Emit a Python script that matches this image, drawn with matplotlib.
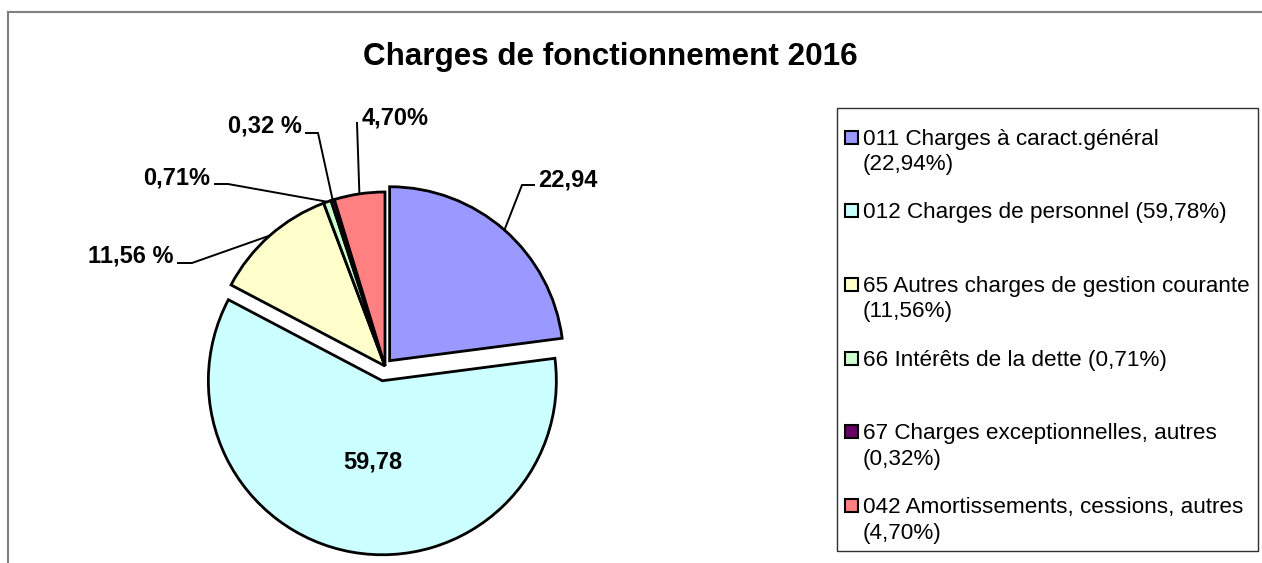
import matplotlib
matplotlib.use("Agg")
import matplotlib.pyplot as plt
from matplotlib.patches import Rectangle
from matplotlib.lines import Line2D
import numpy as np

# ---------------- data ----------------
title = "Charges de fonctionnement 2016"
categories = ["011 Charges à caract.général", "012 Charges de personnel",
              "65 Autres charges de gestion courante", "66 Intérêts de la dette",
              "67 Charges exceptionnelles, autres", "042 Amortissements, cessions, autres"]
values = [22.94, 59.78, 11.56, 0.71, 0.32, 4.70]
legend_pct = ["(22,94%)", "(59,78%)", "(11,56%)", "(0,71%)", "(0,32%)", "(4,70%)"]
legend_wrap = [True, False, True, False, True, True]
slice_labels = ["22,94", "59,78", "11,56 %", "0,71%", "0,32 %", "4,70%"]
colors = ["#9999FF", "#CCFFFF", "#FFFFCC", "#CCFFCC", "#660066", "#FF8080"]
explode = [0.035, 0.075, 0, 0, 0, 0]

# ---------------- layout ----------------
W, H, DPI = 1262, 563, 100
plt.rcParams["font.family"] = ["Liberation Sans", "DejaVu Sans"]
fig = plt.figure(figsize=(W / DPI, H / DPI), dpi=DPI)
fig.patch.set_facecolor("white")

CX, CY, S = 385, 366, 200.0  # pie centre in px, px per data unit
AX_W = 800


def px2d(px, py):
    return ((px - CX) / S, (CY - py) / S)


def fx(px):
    return px / W


def fy(py):
    return 1 - py / H


ax = fig.add_axes([0, 0, AX_W / W, 1])
wedges, _ = ax.pie(values, colors=colors, explode=explode, startangle=90,
                   counterclock=False, radius=0.87,
                   wedgeprops=dict(edgecolor="black", linewidth=2.0))
ax.set_xlim(-CX / S, (AX_W - CX) / S)
ax.set_ylim((CY - H) / S, CY / S)
ax.set_aspect("auto")
ax.axis("off")

# slice labels: (x px, baseline px, ha, leader points from text towards arc)
label_layout = [
    (538, 187, "left", [(534, 185), (522, 185)]),
    (372.5, 468, "center", None),
    (173, 263, "right", [(178, 263), (192, 263)]),
    (210, 185, "right", [(215, 184), (228, 184)]),
    (302, 133, "right", [(306, 133), (318, 133)]),
    (395, 124, "center", [(357, 123)]),
]

for w, lab, (tx, ty, ha, pts) in zip(wedges, slice_labels, label_layout):
    x, y = px2d(tx, ty)
    ax.text(x, y, lab, ha=ha, va="baseline", fontsize=17, fontweight="bold",
            color="black", clip_on=False)
    if pts:
        mid = np.deg2rad((w.theta1 + w.theta2) / 2)
        cx, cy = w.center
        ax_pt = (cx + w.r * np.cos(mid), cy + w.r * np.sin(mid))
        xs = [px2d(*p)[0] for p in pts] + [ax_pt[0]]
        ys = [px2d(*p)[1] for p in pts] + [ax_pt[1]]
        ax.plot(xs, ys, color="black", lw=1.4, clip_on=False,
                solid_joinstyle="miter")

# title
fig.text(fx(610.5), fy(65), title, ha="center", va="baseline",
         fontsize=22.6, fontweight="bold", color="black")

# outer frame (left and top edges visible)
fig.add_artist(Line2D([fx(8), fx(8)], [fy(12), fy(H + 5)], color="#808080", lw=1.5,
                      transform=fig.transFigure))
fig.add_artist(Line2D([fx(8), fx(W + 5)], [fy(12), fy(12)], color="#808080", lw=1.5,
                      transform=fig.transFigure))

# legend box
LX0, LY0, LX1, LY1 = 837, 108, 1258, 551
fig.add_artist(Rectangle((fx(LX0), fy(LY1)), (LX1 - LX0) / W, (LY1 - LY0) / H,
                         facecolor="white", edgecolor="#303030", lw=1.0,
                         transform=fig.transFigure, zorder=1))

for i, (cat, pct, wrap, col) in enumerate(zip(categories, legend_pct, legend_wrap, colors)):
    yc = 137 + i * 73.7
    fig.add_artist(Rectangle((fx(845), fy(yc + 6.5)), 13 / W, 13 / H,
                             facecolor=col, edgecolor="black", lw=1.5,
                             transform=fig.transFigure, zorder=2))
    lines = [cat, pct] if wrap else [cat + " " + pct]
    for k, line in enumerate(lines):
        fig.text(fx(863), fy(yc + 7.5 + k * 25.5), line, ha="left", va="baseline",
                 fontsize=16.2, color="black", zorder=3)

fig.savefig("out.png", dpi=DPI, facecolor="white")
